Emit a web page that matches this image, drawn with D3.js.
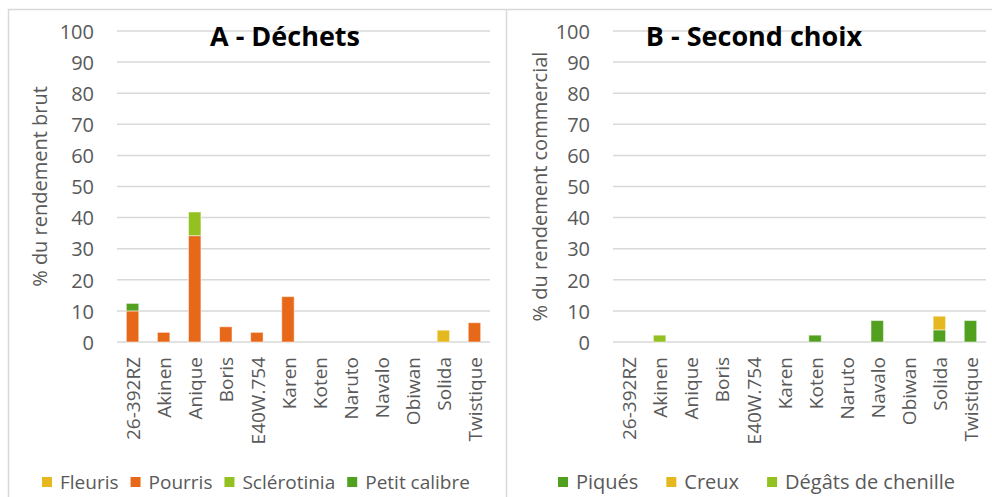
<!DOCTYPE html>
<html><head><meta charset="utf-8">
<script src="https://cdn.jsdelivr.net/npm/d3@7"></script>
<style>body{margin:0;background:#fff}svg{display:block}</style>
</head><body>
<svg id="c" width="992" height="497"></svg>
<script>
const categories = ["26-392RZ","Akinen","Anique","Boris","E40W.754","Karen","Koten","Naruto","Navalo","Obiwan","Solida","Twistique"];
const yTicks = [0,10,20,30,40,50,60,70,80,90,100];

// Panel A – Déchets
const seriesA = ["Fleuris","Pourris","Sclérotinia","Petit calibre"];
const fleuris      = [0,0,0,0,0,0,0,0,0,0,3.8,0];
const pourris      = [10.0,3.1,34.2,4.9,3.1,14.6,0,0,0,0,0,6.2];
const sclerotinia  = [0,0,7.6,0,0,0,0,0,0,0,0,0];
const petitCalibre = [2.4,0,0,0,0,0,0,0,0,0,0,0];

// Panel B – Second choix
const seriesB = ["Piqués","Creux","Dégâts de chenille"];
const piques   = [0,0,0,0,0,0,2.2,0,6.9,0,3.9,6.9];
const creux    = [0,0,0,0,0,0,0,0,0,0,4.4,0];
const chenille = [0,2.2,0,0,0,0,0,0,0,0,0,0];

const colYellow = "#E6B820", colOrange = "#E8681A", colLight = "#92C121", colDark = "#52A020";

const panels = [
  {title:"A - Déchets", ylabel:"% du rendement brut", x0:8, left:117, right:490,
   keys:seriesA, values:[fleuris,pourris,sclerotinia,petitCalibre],
   colors:[colYellow,colOrange,colLight,colDark], stackOrder:[1,2,3,0],
   titleX:285, ylabX:40, legendX0:42, gap:12, legendSize:19},
  {title:"B - Second choix", ylabel:"% du rendement commercial", x0:506, left:613, right:986,
   keys:seriesB, values:[piques,creux,chenille],
   colors:[colDark,colYellow,colLight], stackOrder:[0,1,2],
   titleX:754, ylabX:540, legendX0:558, gap:28, legendSize:20}
];

const svg = d3.select("#c");
const font = "'Open Sans', 'DejaVu Sans', sans-serif";
const gray = "#595959";
const plotTop = 31, plotBottom = 342;

// panel frames
svg.append("path").attr("d","M8.5,497 V9.5 H992").attr("fill","none").attr("stroke","#d9d9d9").attr("stroke-width",1.5);
svg.append("line").attr("x1",506.5).attr("x2",506.5).attr("y1",9.5).attr("y2",497).attr("stroke","#d9d9d9").attr("stroke-width",1.5);

panels.forEach(p => {
  const g = svg.append("g");
  const x = d3.scaleBand().domain(categories).range([p.left,p.right]).paddingInner(0.6).paddingOuter(0.3);
  const y = d3.scaleLinear().domain([0,100]).range([plotBottom,plotTop]);

  // gridlines
  g.append("g").selectAll("line").data(yTicks).join("line")
    .attr("x1",p.left).attr("x2",p.right)
    .attr("y1",d=>y(d)).attr("y2",d=>y(d))
    .attr("stroke","#d9d9d9").attr("stroke-width",1.5);

  // y axis labels
  const ya = g.append("g").attr("transform",`translate(${p.left-23},0)`)
    .call(d3.axisLeft(y).tickValues(yTicks).tickSize(0).tickPadding(0));
  ya.select(".domain").remove();
  ya.selectAll("text").attr("font-family",font).attr("font-size",20).attr("fill",gray).attr("dy","0.36em");

  // stacked bars
  const rows = categories.map((c,i)=>{const o={cat:c}; p.keys.forEach((k,j)=>o[k]=p.values[j][i]); return o;});
  const orderedKeys = p.stackOrder.map(i=>p.keys[i]);
  const stack = d3.stack().keys(orderedKeys)(rows);
  stack.forEach(layer=>{
    const col = p.colors[p.keys.indexOf(layer.key)];
    g.append("g").selectAll("rect").data(layer.filter(d=>d[1]-d[0]>0)).join("rect")
      .attr("x",d=>x(d.data.cat)).attr("width",x.bandwidth())
      .attr("y",d=>y(d[1])).attr("height",d=>y(d[0])-y(d[1]))
      .attr("fill",col).attr("stroke","#fff").attr("stroke-opacity",0.5).attr("stroke-width",1);
  });

  // x axis labels
  const xa = g.append("g").attr("transform",`translate(0,${plotBottom})`)
    .call(d3.axisBottom(x).tickSize(0).tickPadding(0));
  xa.select(".domain").remove();
  xa.selectAll("text").attr("font-family",font).attr("font-size",19).attr("fill",gray)
    .attr("text-anchor","end").attr("transform","translate(1,15) rotate(-90)").attr("dy","0.35em").attr("x",0).attr("y",0);

  // y label
  g.append("text").attr("transform",`translate(${p.ylabX},${(plotTop+plotBottom)/2}) rotate(-90)`)
    .attr("text-anchor","middle").attr("dy","0.35em").attr("font-family",font).attr("font-size",20).attr("fill",gray).text(p.ylabel);

  // title
  g.append("text").attr("x",p.titleX).attr("y",46).attr("text-anchor","middle")
    .attr("font-family",font).attr("font-weight","bold").attr("font-size",27).attr("fill","#000").text(p.title);

  // legend
  let lx = p.legendX0;
  p.keys.forEach((k,i)=>{
    g.append("rect").attr("x",lx).attr("y",477).attr("width",10).attr("height",10).attr("fill",p.colors[i]);
    const t = g.append("text").attr("x",lx+18).attr("y",489).attr("font-family",font).attr("font-size",p.legendSize).attr("fill",gray).text(k);
    lx += 18 + t.node().getComputedTextLength() + p.gap;
  });
});
</script>
</body></html>
